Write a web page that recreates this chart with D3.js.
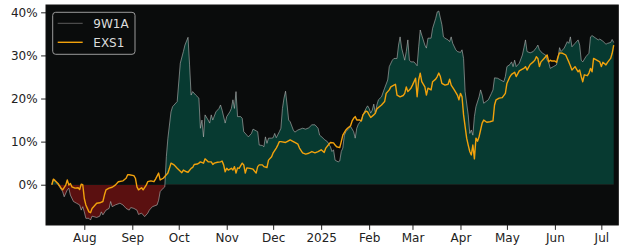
<!DOCTYPE html>
<html><head><meta charset="utf-8">
<script src="https://cdn.jsdelivr.net/npm/d3@7"></script>
<style>html,body{margin:0;padding:0;background:#fff;}svg{display:block;font-family:"DejaVu Sans",sans-serif;}</style>
</head><body><div id="chart"></div>
<script>
const seriesNames = ["9W1A", "EXS1"];
const yTicks = [0, 10, 20, 30, 40];

const dates9W1A = ["2024-07-11","2024-07-12","2024-07-14","2024-07-16","2024-07-18","2024-07-19","2024-07-21","2024-07-22","2024-07-23","2024-07-25","2024-07-27","2024-07-29","2024-07-30","2024-07-31","2024-08-01","2024-08-02","2024-08-04","2024-08-05","2024-08-06","2024-08-09","2024-08-11","2024-08-12","2024-08-13","2024-08-15","2024-08-17","2024-08-18","2024-08-19","2024-08-21","2024-08-24","2024-08-26","2024-08-28","2024-08-30","2024-08-31","2024-09-02","2024-09-04","2024-09-05","2024-09-07","2024-09-09","2024-09-11","2024-09-12","2024-09-14","2024-09-17","2024-09-18","2024-09-19","2024-09-21","2024-09-22","2024-09-23","2024-09-24","2024-09-26","2024-09-27","2024-09-30","2024-10-02","2024-10-04","2024-10-05","2024-10-07","2024-10-08","2024-10-09","2024-10-10","2024-10-12","2024-10-14","2024-10-15","2024-10-16","2024-10-17","2024-10-18","2024-10-20","2024-10-21","2024-10-22","2024-10-23","2024-10-25","2024-10-27","2024-10-28","2024-10-29","2024-10-31","2024-11-01","2024-11-03","2024-11-04","2024-11-05","2024-11-06","2024-11-07","2024-11-08","2024-11-10","2024-11-11","2024-11-12","2024-11-14","2024-11-15","2024-11-17","2024-11-18","2024-11-20","2024-11-21","2024-11-22","2024-11-24","2024-11-25","2024-11-26","2024-11-27","2024-11-28","2024-11-30","2024-12-01","2024-12-02","2024-12-03","2024-12-05","2024-12-06","2024-12-07","2024-12-08","2024-12-09","2024-12-10","2024-12-11","2024-12-12","2024-12-14","2024-12-15","2024-12-17","2024-12-20","2024-12-22","2024-12-24","2024-12-26","2024-12-28","2024-12-30","2024-12-31","2025-01-02","2025-01-03","2025-01-05","2025-01-07","2025-01-08","2025-01-09","2025-01-10","2025-01-12","2025-01-13","2025-01-14","2025-01-15","2025-01-16","2025-01-17","2025-01-19","2025-01-20","2025-01-22","2025-01-23","2025-01-24","2025-01-25","2025-01-26","2025-01-27","2025-01-28","2025-01-30","2025-01-31","2025-02-01","2025-02-02","2025-02-03","2025-02-04","2025-02-05","2025-02-06","2025-02-07","2025-02-09","2025-02-11","2025-02-13","2025-02-14","2025-02-16","2025-02-17","2025-02-19","2025-02-20","2025-02-21","2025-02-22","2025-02-24","2025-02-25","2025-02-26","2025-02-27","2025-02-28","2025-03-02","2025-03-04","2025-03-05","2025-03-06","2025-03-07","2025-03-09","2025-03-10","2025-03-11","2025-03-13","2025-03-14","2025-03-16","2025-03-17","2025-03-18","2025-03-20","2025-03-21","2025-03-22","2025-03-24","2025-03-25","2025-03-26","2025-03-27","2025-03-29","2025-03-30","2025-04-01","2025-04-02","2025-04-03","2025-04-04","2025-04-06","2025-04-07","2025-04-08","2025-04-09","2025-04-10","2025-04-11","2025-04-13","2025-04-14","2025-04-15","2025-04-16","2025-04-19","2025-04-21","2025-04-22","2025-04-23","2025-04-25","2025-04-27","2025-04-29","2025-04-30","2025-05-01","2025-05-03","2025-05-04","2025-05-05","2025-05-06","2025-05-07","2025-05-09","2025-05-11","2025-05-12","2025-05-13","2025-05-14","2025-05-16","2025-05-18","2025-05-20","2025-05-21","2025-05-22","2025-05-24","2025-05-26","2025-05-27","2025-05-28","2025-05-29","2025-05-31","2025-06-02","2025-06-03","2025-06-04","2025-06-05","2025-06-07","2025-06-09","2025-06-10","2025-06-11","2025-06-12","2025-06-14","2025-06-16","2025-06-17","2025-06-18","2025-06-19","2025-06-21","2025-06-23","2025-06-24","2025-06-25","2025-06-27","2025-06-29","2025-06-30","2025-07-02","2025-07-04","2025-07-05","2025-07-07","2025-07-08","2025-07-09"];
const values9W1A = [0.0,1.2,0.5,-0.5,-1.6,-2.8,-1.2,-0.8,-2.4,-3.9,-4.3,-4.7,-5.9,-5.1,-6.3,-7.8,-7.8,-8.2,-7.3,-7.6,-7.3,-6.3,-7.0,-5.9,-5.5,-3.9,-5.1,-4.7,-4.3,-4.7,-5.5,-5.9,-5.3,-5.5,-5.9,-6.9,-6.6,-7.4,-6.6,-5.9,-5.1,-4.7,-3.6,-1.6,-0.8,-0.5,6.5,10.8,16.9,18.1,19.3,28.2,30.9,32.4,34.2,27.8,20.8,21.6,20.8,20.1,13.1,15.0,11.1,16.2,15.0,14.3,16.2,15.0,16.9,17.7,18.5,17.3,14.3,15.8,16.9,17.7,19.7,17.7,21.6,15.8,15.8,15.4,12.3,11.5,11.1,11.9,12.9,12.5,12.3,9.2,9.1,8.8,11.1,9.6,10.8,10.8,10.9,11.9,10.9,12.3,13.1,17.7,20.1,21.7,18.5,15.0,14.6,12.7,12.2,12.7,13.1,12.9,13.2,13.9,13.9,13.1,11.5,10.9,10.5,10.0,8.8,7.7,8.1,5.7,5.3,5.5,7.7,8.5,11.5,12.3,13.1,13.5,12.3,10.8,13.1,14.0,14.5,15.0,16.2,17.7,18.3,17.7,16.6,17.3,18.7,16.6,18.5,19.7,20.4,22.4,24.3,27.4,28.9,29.3,29.3,32.4,34.3,31.7,28.9,30.9,33.6,28.9,28.5,28.5,27.6,32.0,35.9,34.7,32.4,31.7,34.0,34.0,36.3,38.6,40.1,40.3,37.1,34.3,34.0,33.6,33.2,34.3,32.8,31.3,30.9,30.7,31.3,29.3,21.6,16.2,11.9,12.7,11.5,15.8,18.1,20.4,22.0,20.8,18.9,19.7,21.2,22.0,24.8,24.7,24.3,23.9,25.1,27.4,27.9,28.5,27.4,28.9,27.4,28.2,30.1,31.8,33.6,30.9,30.6,30.9,31.8,32.4,31.3,30.5,30.1,28.9,28.4,27.0,27.4,27.8,29.3,31.8,30.9,31.7,33.2,32.8,34.3,32.0,32.8,33.6,32.4,28.9,28.5,29.7,30.5,34.3,34.6,34.1,33.6,33.8,33.3,32.6,32.8,33.0,33.7,33.0];

const datesEXS1 = ["2024-07-11","2024-07-12","2024-07-13","2024-07-15","2024-07-17","2024-07-18","2024-07-20","2024-07-21","2024-07-22","2024-07-23","2024-07-24","2024-07-26","2024-07-28","2024-07-29","2024-07-30","2024-07-31","2024-08-01","2024-08-02","2024-08-04","2024-08-05","2024-08-06","2024-08-09","2024-08-11","2024-08-13","2024-08-14","2024-08-15","2024-08-17","2024-08-19","2024-08-21","2024-08-23","2024-08-26","2024-08-28","2024-08-29","2024-08-30","2024-09-02","2024-09-03","2024-09-04","2024-09-05","2024-09-07","2024-09-08","2024-09-10","2024-09-11","2024-09-13","2024-09-15","2024-09-16","2024-09-18","2024-09-19","2024-09-21","2024-09-22","2024-09-24","2024-09-25","2024-09-26","2024-09-28","2024-09-30","2024-10-03","2024-10-04","2024-10-06","2024-10-07","2024-10-09","2024-10-10","2024-10-11","2024-10-13","2024-10-14","2024-10-15","2024-10-17","2024-10-18","2024-10-20","2024-10-22","2024-10-23","2024-10-24","2024-10-26","2024-10-28","2024-10-29","2024-10-30","2024-10-31","2024-11-01","2024-11-02","2024-11-04","2024-11-05","2024-11-06","2024-11-07","2024-11-08","2024-11-09","2024-11-11","2024-11-12","2024-11-13","2024-11-14","2024-11-16","2024-11-18","2024-11-20","2024-11-21","2024-11-22","2024-11-24","2024-11-25","2024-11-27","2024-11-28","2024-11-30","2024-12-01","2024-12-03","2024-12-04","2024-12-05","2024-12-06","2024-12-09","2024-12-10","2024-12-12","2024-12-14","2024-12-15","2024-12-17","2024-12-18","2024-12-20","2024-12-22","2024-12-24","2024-12-26","2024-12-28","2024-12-30","2025-01-01","2025-01-03","2025-01-04","2025-01-06","2025-01-07","2025-01-09","2025-01-10","2025-01-11","2025-01-13","2025-01-14","2025-01-15","2025-01-17","2025-01-18","2025-01-20","2025-01-21","2025-01-22","2025-01-23","2025-01-24","2025-01-26","2025-01-27","2025-01-28","2025-01-30","2025-01-31","2025-02-01","2025-02-02","2025-02-04","2025-02-05","2025-02-06","2025-02-07","2025-02-09","2025-02-11","2025-02-12","2025-02-14","2025-02-15","2025-02-17","2025-02-18","2025-02-19","2025-02-21","2025-02-23","2025-02-24","2025-02-25","2025-02-26","2025-02-28","2025-03-01","2025-03-03","2025-03-04","2025-03-05","2025-03-06","2025-03-07","2025-03-09","2025-03-10","2025-03-11","2025-03-13","2025-03-14","2025-03-16","2025-03-17","2025-03-18","2025-03-19","2025-03-20","2025-03-22","2025-03-24","2025-03-25","2025-03-26","2025-03-28","2025-03-30","2025-03-31","2025-04-01","2025-04-02","2025-04-03","2025-04-05","2025-04-06","2025-04-07","2025-04-08","2025-04-09","2025-04-10","2025-04-11","2025-04-12","2025-04-13","2025-04-14","2025-04-15","2025-04-16","2025-04-18","2025-04-20","2025-04-22","2025-04-23","2025-04-24","2025-04-26","2025-04-28","2025-04-30","2025-05-01","2025-05-03","2025-05-04","2025-05-06","2025-05-07","2025-05-09","2025-05-11","2025-05-12","2025-05-13","2025-05-14","2025-05-16","2025-05-18","2025-05-19","2025-05-20","2025-05-21","2025-05-22","2025-05-23","2025-05-25","2025-05-27","2025-05-28","2025-05-29","2025-05-30","2025-06-01","2025-06-02","2025-06-03","2025-06-04","2025-06-06","2025-06-08","2025-06-09","2025-06-10","2025-06-11","2025-06-12","2025-06-13","2025-06-14","2025-06-16","2025-06-17","2025-06-18","2025-06-19","2025-06-20","2025-06-22","2025-06-23","2025-06-24","2025-06-25","2025-06-26","2025-06-28","2025-06-30","2025-07-01","2025-07-02","2025-07-04","2025-07-05","2025-07-07","2025-07-08","2025-07-09"];
const valuesEXS1 = [0.0,1.3,1.0,0.3,-0.8,-1.2,-0.1,1.1,-0.1,0.3,-0.5,-0.8,-0.7,-1.1,0.1,0.0,-3.2,-4.7,-6.3,-6.5,-5.5,-4.3,-4.2,-3.9,-2.4,-1.2,-0.8,-0.6,-0.1,0.7,0.9,1.5,2.3,2.3,2.1,1.5,-0.5,-1.2,-0.7,-1.2,-0.1,0.7,0.9,0.7,1.3,2.7,1.1,1.5,1.9,2.7,3.8,5.0,4.6,3.8,2.8,3.4,3.0,2.9,3.8,4.0,4.7,4.8,5.0,5.3,5.0,6.0,5.3,5.3,4.7,5.0,5.2,5.3,5.5,4.6,3.0,3.8,3.4,3.8,3.4,4.2,2.7,3.9,3.8,5.0,4.6,2.7,3.9,3.8,3.6,2.7,4.2,4.6,4.6,4.2,4.0,5.7,6.5,7.4,8.5,9.2,10.0,10.0,9.8,10.0,10.4,10.0,9.8,9.4,8.5,7.4,7.1,7.3,7.7,7.4,7.7,8.1,7.5,8.5,9.4,9.8,9.7,9.2,8.8,8.6,10.0,11.5,12.7,13.1,13.7,14.8,15.4,15.8,15.0,15.0,14.8,16.2,17.1,16.9,16.2,15.6,16.2,16.6,17.6,17.9,18.5,19.3,21.2,22.0,22.7,23.1,23.3,20.8,20.4,20.7,21.2,22.7,21.6,22.4,23.1,24.7,20.4,24.3,25.9,23.9,22.7,20.8,22.4,22.0,23.9,24.5,25.1,25.9,25.1,23.5,23.1,23.3,24.5,23.1,22.0,20.8,19.7,21.2,20.4,16.2,10.8,9.2,7.7,6.9,9.2,6.0,10.8,10.1,11.1,12.7,14.3,15.0,14.5,14.6,14.8,18.5,19.7,20.1,20.2,21.2,23.5,25.1,25.6,26.1,25.1,26.4,26.8,27.0,27.4,26.6,27.9,28.5,28.9,29.7,29.3,27.4,28.5,29.3,30.1,28.5,28.9,28.7,28.7,28.4,29.7,30.6,30.5,30.1,29.3,28.5,27.6,26.6,27.0,27.4,26.2,26.6,25.1,23.9,25.5,25.3,25.9,27.0,26.2,29.3,28.9,28.5,27.4,28.4,27.8,28.4,29.3,30.5,32.4];

const W = 625, H = 250;
const M = {left: 46, top: 5, right: 618.3, bottom: 225};

const parse = d3.utcParse("%Y-%m-%d");
const s1 = dates9W1A.map((d, i) => ({date: parse(d), v: values9W1A[i]}));
const s2 = datesEXS1.map((d, i) => ({date: parse(d), v: valuesEXS1[i]}));

const x = d3.scaleUtc()
  .domain([new Date(Date.UTC(2024, 6, 7, 6)), new Date(Date.UTC(2025, 6, 11, 23))])
  .range([M.left, M.right]);
const y = d3.scaleLinear().domain([-9.35, 41.7]).range([M.bottom, M.top]);

const svg = d3.select("#chart").append("svg").attr("width", W).attr("height", H);

svg.append("rect").attr("x", M.left).attr("y", M.top)
  .attr("width", M.right - M.left).attr("height", M.bottom - M.top)
  .attr("fill", "#0a0c0c");

const defs = svg.append("defs");
defs.append("clipPath").attr("id", "pos").append("rect")
  .attr("x", M.left).attr("y", M.top).attr("width", M.right - M.left).attr("height", y(0) - M.top);
defs.append("clipPath").attr("id", "neg").append("rect")
  .attr("x", M.left).attr("y", y(0)).attr("width", M.right - M.left).attr("height", M.bottom - y(0));

const area = d3.area().x(d => x(d.date)).y0(y(0)).y1(d => y(d.v));
svg.append("path").datum(s1).attr("d", area).attr("fill", "#073a31").attr("clip-path", "url(#pos)");
svg.append("path").datum(s1).attr("d", area).attr("fill", "#5a1010").attr("clip-path", "url(#neg)");

const line = d3.line().x(d => x(d.date)).y(d => y(d.v));
svg.append("path").datum(s1).attr("d", line).attr("fill", "none")
  .attr("stroke", "#b8b8b8").attr("stroke-opacity", 0.6).attr("stroke-width", 1);
svg.append("path").datum(s2).attr("d", line).attr("fill", "none")
  .attr("stroke", "#f2a20c").attr("stroke-width", 1.4).attr("stroke-linejoin", "round");

// axes
const fmtX = d => d.getUTCMonth() === 0 ? d3.utcFormat("%Y")(d) : d3.utcFormat("%b")(d);
const xAxis = d3.axisBottom(x).ticks(d3.utcMonth.every(1)).tickFormat(fmtX).tickSize(4.9).tickPadding(3.5);
const gx = svg.append("g").attr("transform", `translate(0,${M.bottom})`).call(xAxis);
const yAxis = d3.axisLeft(y).tickValues(yTicks).tickFormat(d => d + "%").tickSize(4.9).tickPadding(3.5);
const gy = svg.append("g").attr("transform", `translate(${M.left},0)`).call(yAxis);
[gx, gy].forEach(g => {
  g.selectAll("text").attr("font-family", "DejaVu Sans").attr("font-size", "12px").attr("fill", "#222");
  g.selectAll("line").attr("stroke", "#222");
  g.select(".domain").remove();
});

svg.append("rect").attr("x", M.left).attr("y", M.top)
  .attr("width", M.right - M.left).attr("height", M.bottom - M.top)
  .attr("fill", "none").attr("stroke", "#111").attr("stroke-width", 1);

// legend
const lg = svg.append("g");
lg.append("rect").attr("x", 52.7).attr("y", 12.3).attr("width", 82.3).attr("height", 42)
  .attr("rx", 3).attr("fill", "#0a0c0c").attr("stroke", "#9a9a9a").attr("stroke-width", 1);
const legendColors = ["#5c5c5c", "#f2a20c"];
seriesNames.forEach((n, i) => {
  const ly = 23.3 + i * 19;
  lg.append("line").attr("x1", 57.7).attr("x2", 82.7).attr("y1", ly).attr("y2", ly)
    .attr("stroke", legendColors[i]).attr("stroke-width", i === 0 ? 1 : 1.4);
  lg.append("text").attr("x", 93.3).attr("y", ly + 4.3).text(n)
    .attr("font-family", "DejaVu Sans").attr("font-size", "12px").attr("fill", "#dcdcdc");
});
</script></body></html>
